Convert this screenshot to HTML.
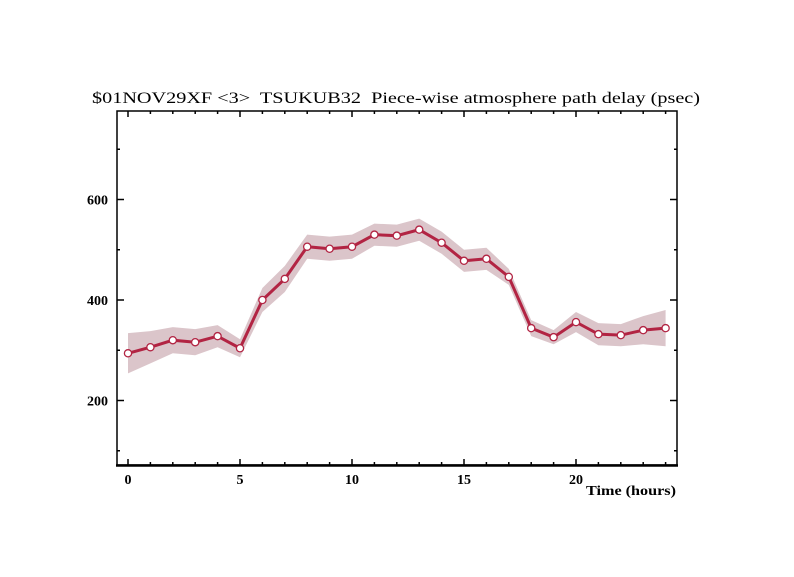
<!DOCTYPE html>
<html><head><meta charset="utf-8"><style>
html,body{margin:0;padding:0;background:#fff;}
svg{display:block;}
text{font-family:"Liberation Serif",serif;font-weight:bold;fill:#000;}
</style></head><body>
<svg id="chart" width="794" height="577" viewBox="0 0 794 577" xmlns="http://www.w3.org/2000/svg" xml:space="preserve">
<text x="92" y="103" font-size="16" font-weight="normal" style="font-weight:normal" textLength="608" lengthAdjust="spacingAndGlyphs" xml:space="preserve">$01NOV29XF &lt;3&gt;  TSUKUB32  Piece-wise atmosphere path delay (psec)</text>
<g id="band"></g>
<g id="line"></g>
<g id="points"></g>
<rect x="117" y="111" width="560" height="354" fill="none" stroke="#000" stroke-width="1.5"/>
<line x1="116" y1="465.5" x2="678" y2="465.5" stroke="#000" stroke-width="2.5"/>
<g id="ticks"></g>
<text x="586" y="495" font-size="14" textLength="90" lengthAdjust="spacingAndGlyphs">Time (hours)</text>
</svg>
<script>
const hours=[0,1,2,3,4,5,6,7,8,9,10,11,12,13,14,15,16,17,18,19,20,21,22,23,24];
const delays=[294,306,320,316,328,304,400,442,506,502,506,530,528,540,514,478,482,446,344,326,356,332,330,340,344];
const errors=[40,32,26,26,22,18,24,26,24,24,24,22,22,22,22,22,22,16,16,14,20,22,22,28,36];
const xTicks=[0,5,10,15,20];
const yTicks=[200,400,600];
const NS="http://www.w3.org/2000/svg";
const xs=h=>128+h*22.4;
const ys=v=>300-(v-400)*0.5025;
function mk(tag,attrs,parent){const e=document.createElementNS(NS,tag);for(const k in attrs)e.setAttribute(k,attrs[k]);parent.appendChild(e);return e;}
const band=document.getElementById('band');
let up=hours.map((h,i)=>xs(h)+','+ys(delays[i]+errors[i]));
let lo=hours.map((h,i)=>xs(h)+','+ys(delays[i]-errors[i])).reverse();
const bp=mk('polygon',{points:up.concat(lo).join(' '),fill:'#dbc5ca'},band);


const ln=mk('polyline',{points:hours.map((h,i)=>xs(h)+','+ys(delays[i])).join(' '),fill:'none',stroke:'#b22443','stroke-width':3},document.getElementById('line'));


const pts=document.getElementById('points');
hours.forEach((h,i)=>{const c=mk('circle',{cx:xs(h),cy:ys(delays[i]),r:3.6,fill:'#fff',stroke:'#b22443','stroke-width':1.3},pts);

});
const tk=document.getElementById('ticks');
for(let h=0;h<=24;h++){const L=h%5===0?6:3;
mk('line',{x1:xs(h),x2:xs(h),y1:465,y2:465-L,stroke:'#000','stroke-width':1.5},tk);
mk('line',{x1:xs(h),x2:xs(h),y1:111,y2:111+L,stroke:'#000','stroke-width':1.5},tk);}
for(let v=100;v<=700;v+=100){const L=v%200===0?7:3;
mk('line',{x1:117,x2:117+L,y1:ys(v),y2:ys(v),stroke:'#000','stroke-width':1.5},tk);
mk('line',{x1:677,x2:677-L,y1:ys(v),y2:ys(v),stroke:'#000','stroke-width':1.5},tk);}
xTicks.forEach(h=>{const t=mk('text',{x:xs(h),y:484,'font-size':14,'text-anchor':'middle'},tk);t.textContent=h;

});
yTicks.forEach(v=>{const t=mk('text',{x:108,y:ys(v)+5,'font-size':14,'text-anchor':'end'},tk);t.textContent=v;

});
</script>
</body></html>
